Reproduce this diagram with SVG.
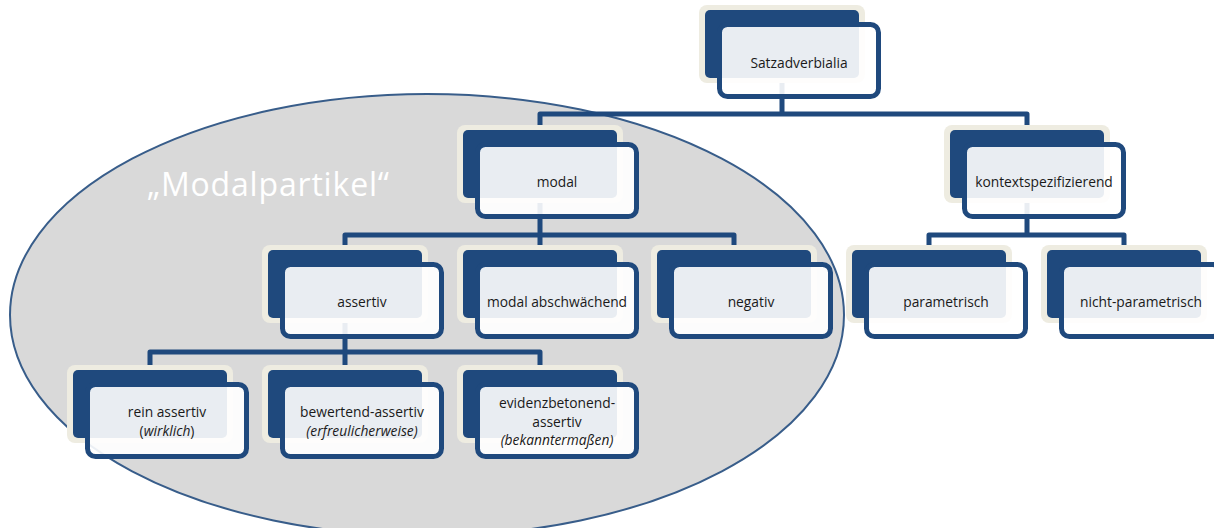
<svg xmlns="http://www.w3.org/2000/svg" width="1214" height="528" viewBox="0 0 1214 528">
<defs>
<style>
.cream{fill:#eeece1;}
.back{fill:#1f497d;}
.front{fill:#ffffff;fill-opacity:0.9;stroke:#1f497d;stroke-width:5;}
.lbl{font-family:"Open Sans","Liberation Sans",sans-serif;font-size:13.8px;fill:#1a1a1a;text-anchor:middle;}
.it{font-style:italic;}
.conn{fill:none;stroke:#1f497d;stroke-width:5;stroke-linejoin:round;}
</style>
</defs>
<rect x="0" y="0" width="1214" height="528" fill="#ffffff"/>
<ellipse cx="427" cy="315" rx="417" ry="221" fill="#d9d9d9" stroke="#385d8a" stroke-width="2"/>
<text x="147" y="196" font-family="Open Sans, Liberation Sans, sans-serif" font-size="32" fill="#ffffff" textLength="242" lengthAdjust="spacing">„Modalpartikel“</text>

<g id="connectors">
<path class="conn" d="M782,78 V114 M540,125 V114 H1027 V125"/>
<path class="conn" d="M540,198 V235 M345,245 V235 H734 V245 M540,235 V245"/>
<path class="conn" d="M1027,198 V235 M929,245 V235 H1124 V245"/>
<path class="conn" d="M345,318 V352 M150,365 V352 H540 V365 M345,352 V365"/>
</g>

<g id="n-satzadverbialia">
<rect class="cream" x="699" y="5" width="166" height="78" rx="8"/>
<rect class="back" x="705" y="10" width="154" height="68" rx="5"/>
<rect class="front" x="719.5" y="24.5" width="159" height="72" rx="8"/>
<text class="lbl" x="799" y="68">Satzadverbialia</text>
</g>

<g id="n-modal">
<rect class="cream" x="457" y="125" width="166" height="78" rx="8"/>
<rect class="back" x="463" y="130" width="154" height="68" rx="5"/>
<rect class="front" x="477.5" y="144.5" width="159" height="72" rx="8"/>
<text class="lbl" x="557" y="187">modal</text>
</g>

<g id="n-kontextspezifizierend">
<rect class="cream" x="944" y="125" width="166" height="78" rx="8"/>
<rect class="back" x="950" y="130" width="154" height="68" rx="5"/>
<rect class="front" x="964.5" y="144.5" width="159" height="72" rx="8"/>
<text class="lbl" x="1044" y="187">kontextspezifizierend</text>
</g>

<g id="n-assertiv">
<rect class="cream" x="262" y="245" width="166" height="78" rx="8"/>
<rect class="back" x="268" y="250" width="154" height="68" rx="5"/>
<rect class="front" x="282.5" y="264.5" width="159" height="72" rx="8"/>
<text class="lbl" x="362" y="307">assertiv</text>
</g>

<g id="n-modal-abschwaechend">
<rect class="cream" x="457" y="245" width="166" height="78" rx="8"/>
<rect class="back" x="463" y="250" width="154" height="68" rx="5"/>
<rect class="front" x="477.5" y="264.5" width="159" height="72" rx="8"/>
<text class="lbl" x="557" y="307">modal abschwächend</text>
</g>

<g id="n-negativ">
<rect class="cream" x="651" y="245" width="166" height="78" rx="8"/>
<rect class="back" x="657" y="250" width="154" height="68" rx="5"/>
<rect class="front" x="671.5" y="264.5" width="159" height="72" rx="8"/>
<text class="lbl" x="751" y="307">negativ</text>
</g>

<g id="n-parametrisch">
<rect class="cream" x="846" y="245" width="166" height="78" rx="8"/>
<rect class="back" x="852" y="250" width="154" height="68" rx="5"/>
<rect class="front" x="866.5" y="264.5" width="159" height="72" rx="8"/>
<text class="lbl" x="946" y="307">parametrisch</text>
</g>

<g id="n-nicht-parametrisch">
<rect class="cream" x="1041" y="245" width="166" height="78" rx="8"/>
<rect class="back" x="1047" y="250" width="154" height="68" rx="5"/>
<rect class="front" x="1061.5" y="264.5" width="159" height="72" rx="8"/>
<text class="lbl" x="1141" y="307">nicht-parametrisch</text>
</g>

<g id="n-rein-assertiv">
<rect class="cream" x="67" y="365" width="166" height="78" rx="8"/>
<rect class="back" x="73" y="370" width="154" height="68" rx="5"/>
<rect class="front" x="87.5" y="384.5" width="159" height="72" rx="8"/>
<text class="lbl" x="167" y="417">rein assertiv</text>
<text class="lbl" x="167" y="436">(<tspan class="it">wirklich</tspan>)</text>
</g>

<g id="n-bewertend-assertiv">
<rect class="cream" x="262" y="365" width="166" height="78" rx="8"/>
<rect class="back" x="268" y="370" width="154" height="68" rx="5"/>
<rect class="front" x="282.5" y="384.5" width="159" height="72" rx="8"/>
<text class="lbl" x="362" y="417">bewertend-assertiv</text>
<text class="lbl it" x="362" y="436">(erfreulicherweise)</text>
</g>

<g id="n-evidenzbetonend-assertiv">
<rect class="cream" x="457" y="365" width="166" height="78" rx="8"/>
<rect class="back" x="463" y="370" width="154" height="68" rx="5"/>
<rect class="front" x="477.5" y="384.5" width="159" height="72" rx="8"/>
<text class="lbl" x="557" y="408">evidenzbetonend-</text>
<text class="lbl" x="557" y="427">assertiv</text>
<text class="lbl it" x="557" y="445">(bekanntermaßen)</text>
</g>
</svg>
